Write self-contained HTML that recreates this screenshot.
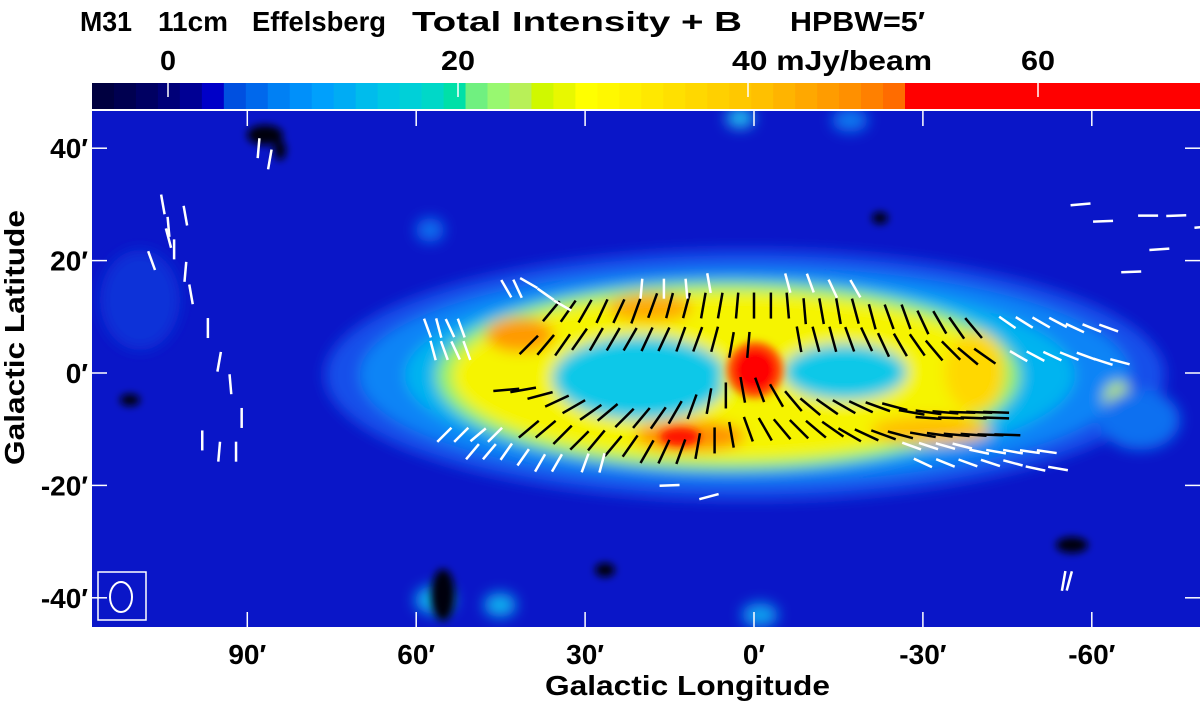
<!DOCTYPE html>
<html><head><meta charset="utf-8"><style>
body{margin:0;background:#fff;width:1200px;height:703px;overflow:hidden;font-family:"Liberation Sans",sans-serif}
svg{display:block}
text{font-family:"Liberation Sans",sans-serif;font-weight:bold;fill:#000}
</style></head><body>
<svg id="chart" width="1200" height="703">
<defs>
<filter id="bl" x="-20%" y="-20%" width="140%" height="140%"><feGaussianBlur stdDeviation="7"/></filter>
<filter id="bl2" x="-50%" y="-50%" width="200%" height="200%"><feGaussianBlur stdDeviation="4"/></filter>
<clipPath id="mapclip"><rect x="92" y="111" width="1108" height="516"/></clipPath>
</defs>
<g font-size="28">
<text x="80" y="31" textLength="52" lengthAdjust="spacingAndGlyphs">M31</text>
<text x="158" y="31" textLength="70" lengthAdjust="spacingAndGlyphs">11cm</text>
<text x="252" y="31" textLength="134" lengthAdjust="spacingAndGlyphs">Effelsberg</text>
<text x="412" y="31" textLength="330" lengthAdjust="spacingAndGlyphs">Total Intensity + B</text>
<text x="790" y="31" textLength="135" lengthAdjust="spacingAndGlyphs">HPBW=5′</text>
</g>
<g id="cbar"></g>
<g clip-path="url(#mapclip)">
<rect x="92" y="111" width="1108" height="516" fill="#0a16c8"/>
<g filter="url(#bl)">
<ellipse cx="140" cy="300" rx="40" ry="50" fill="#0c30d8"/>
<ellipse cx="745" cy="375" rx="420" ry="125" fill="#1250ea"/>
<ellipse cx="745" cy="375" rx="385" ry="108" fill="#0a84f6"/>
<ellipse cx="740" cy="375" rx="335" ry="95" fill="#00b4f0"/>
<ellipse cx="728" cy="376" rx="292" ry="94" fill="#90f068"/>
<ellipse cx="728" cy="376" rx="276" ry="84" fill="#f6f400"/>
<ellipse cx="640" cy="378" rx="88" ry="42" fill="#10c8e8"/>
<ellipse cx="845" cy="372" rx="62" ry="28" fill="#10c8e8"/>
<ellipse cx="740" cy="380" rx="18" ry="20" fill="#e8f800"/>
<ellipse cx="520" cy="335" rx="34" ry="17" fill="#ff9a00"/>
<ellipse cx="650" cy="308" rx="42" ry="14" fill="#ffaa00"/>
<ellipse cx="690" cy="436" rx="55" ry="15" fill="#ff9000"/>
<ellipse cx="930" cy="430" rx="60" ry="14" fill="#ffc000"/>
<ellipse cx="975" cy="372" rx="30" ry="40" fill="#ffd800"/>
<ellipse cx="1118" cy="400" rx="14" ry="18" fill="#c0f040"/>
<ellipse cx="740" cy="118" rx="14" ry="10" fill="#20c0f0"/>
<ellipse cx="850" cy="120" rx="18" ry="12" fill="#1078f0"/>
<ellipse cx="435" cy="600" rx="20" ry="14" fill="#10b0f0"/>
<ellipse cx="500" cy="605" rx="16" ry="12" fill="#10b0f0"/>
<ellipse cx="760" cy="615" rx="18" ry="12" fill="#10a0f0"/>
<ellipse cx="1140" cy="420" rx="40" ry="30" fill="#1070f0"/>
<ellipse cx="430" cy="230" rx="14" ry="12" fill="#1070f0"/>
</g>
<g filter="url(#bl2)">
<ellipse cx="680" cy="437" rx="20" ry="9" fill="#ff1800"/>
<circle cx="755" cy="370" r="28" fill="#ff5000"/>
<circle cx="755" cy="370" r="21" fill="#ff0000"/>
<ellipse cx="265" cy="135" rx="18" ry="10" fill="#000010"/>
<ellipse cx="280" cy="150" rx="6" ry="10" fill="#000010"/>
<ellipse cx="443" cy="595" rx="12" ry="26" fill="#000010"/>
<ellipse cx="605" cy="570" rx="10" ry="7" fill="#000010"/>
<ellipse cx="1072" cy="545" rx="16" ry="8" fill="#000010"/>
<ellipse cx="880" cy="218" rx="8" ry="6" fill="#000010"/>
<ellipse cx="130" cy="400" rx="10" ry="6" fill="#000010"/>
</g>
<g id="vectors"></g>
<g id="ticks"></g>
<rect x="98" y="572" width="48" height="48" fill="none" stroke="#fff" stroke-width="1.5"/>
<ellipse cx="121" cy="597" rx="11" ry="15" fill="none" stroke="#fff" stroke-width="2"/>
</g>
<g id="labels"></g>
<text x="545" y="695" font-size="28" textLength="285" lengthAdjust="spacingAndGlyphs">Galactic Longitude</text>
<text transform="translate(24,465) rotate(-90)" font-size="28" textLength="255" lengthAdjust="spacingAndGlyphs">Galactic Latitude</text>
</svg>
<script>
const cbarColors=["#000040","#000050","#000062","#000078","#000094","#0000c8","#0050e0","#0068ec","#0080f4","#0090fa","#00a0fc","#00acf4","#00bcec","#00c8e4","#00d0d8","#00d8c8","#00e0a8","#70f080","#98f870","#b8f058","#d0f800","#e8f800","#ffff00","#fff800","#fff000","#ffe800","#ffe000","#ffd800","#ffd000","#ffc800","#ffc000","#ffb400","#ffa800","#ff9c00","#ff9000","#ff8000","#ff6c00"];
const cbarTicks=[0,20,40,60];
const cbarTickText=["0","20","40 mJy/beam","60"];
const xTicks=[90,60,30,0,-30,-60];
const xTickText=["90′","60′","30′","0′","-30′","-60′"];
const yTicks=[40,20,0,-20,-40];
const yTickText=["40′","20′","0′","-20′","-40′"];
const vLon=[36,33,30,27,24,21,18,15,12,9,6,3,0,-3,-6,-9,-12,-15,-18,-21,-24,-27,-30,-33,-36,-39,
 40,37,34,31,28,25,22,19,16,13,10,7,4,1,-8,-11,-14,-17,-20,-23,-26,-29,-32,-35,-38,-41,
 44,41,38,35,32,29,26,23,20,17,14,11,8,5,2,-1,-4,-7,-10,-13,-16,-19,-22,-25,-28,-31,-34,-37,-40,-43,
 40,37,34,31,28,25,22,19,16,13,10,7,4,1,-2,-5,-8,-11,-14,-17,-20,-23,-26,
 -30,-33,-36,-39,-42,-45,-31,-35,-39,-43,
 58,56,54,52,57,55,53,51,40,37,34,44,42,55,52,49,46,50,47,44,41,38,35,30,27,
 -28,-31,-34,-37,-40,-43,-46,-49,-52,-30,-34,-38,-42,-46,-50,-54,
 -45,-48,-51,-54,-57,-60,-63,-47,-50,-53,-56,-59,-62,-65,
 20,16,12,8,-6,-10,-14,-18,
 105,104,103,101,100,97,95,93,91,107,104,101,98,95,92,
 88,86,-55,-56,-58,-62,-70,-75,-80,-67,-72,15,8];
const vLat=[11,11,11,11,11,11,12,12,12,12,12,12,12,12,12,11,11,11,11,10,10,10,9,9,8,8,
 5,5,5,6,6,6,6,6,6,6,6,6,5,5,6,6,6,6,6,5,5,5,4,4,3,3,
 -3,-3,-4,-5,-6,-7,-7,-8,-8,-8,-7,-6,-5,-4,-3,-3,-4,-5,-6,-6,-6,-6,-6,-6,-7,-7,-7,-7,-7,-7,
 -10,-10,-11,-12,-12,-13,-13,-14,-14,-14,-13,-12,-11,-10,-10,-10,-10,-10,-10,-11,-11,-11,-11,
 -11,-11,-11,-11,-11,-11,-8,-8,-8,-8,
 8,8,8,8,4,4,4,4,16,14,12,15,15,-11,-11,-11,-11,-14,-14,-14,-15,-16,-16,-16,-16,
 -13,-13,-13,-13,-14,-14,-14,-14,-14,-16,-16,-16,-16,-16,-17,-17,
 9,9,9,9,8,8,8,3,3,3,3,3,2,2,
 15,15,15,16,16,16,15,15,
 30,26,22,18,14,8,2,-2,-8,20,24,28,-12,-14,-14,
 40,38,-37,-37,30,27,28,28,26,18,22,-20,-22];
const vAng=[40,35,30,25,25,20,20,15,15,10,10,5,0,0,-5,-5,-10,-10,-15,-15,-20,-20,-25,-30,-35,-40,
 45,40,35,35,30,30,30,25,25,20,20,15,10,5,-10,-15,-15,-20,-25,-25,-30,-35,-40,-45,-50,-55,
 85,80,75,65,60,55,50,45,40,35,30,20,10,0,-10,-20,-30,-40,-50,-55,-60,-65,-70,-75,-80,-82,-85,-88,-88,-88,
 50,50,45,45,40,40,35,30,25,20,10,0,-10,-20,-30,-40,-45,-50,-55,-60,-65,-70,-75,
 -80,-82,-85,-86,-88,-88,-86,-88,-88,-88,
 -20,-15,-25,-20,-15,-20,-25,-20,-60,-55,-60,-30,-25,45,45,50,45,40,40,35,35,30,30,20,15,
 -70,-72,-74,-76,-78,-80,-80,-82,-82,-65,-68,-70,-72,-75,-78,-80,
 -55,-58,-60,-62,-65,-68,-70,-60,-62,-65,-68,-70,-72,-75,
 5,0,-5,-10,-15,-20,-25,-30,
 -10,-5,0,5,-10,0,10,-5,0,-20,-15,-10,0,5,0,
 5,10,10,15,85,88,90,88,85,88,86,88,75];
const vBlack=82+23+10;
const vMap=document.getElementById('vectors');
const X=l=>754-l*5.63, Y=b=>373-b*5.62;
const NS='http://www.w3.org/2000/svg';
for(let i=0;i<vLon.length;i++){
 const a=vAng[i]*Math.PI/180, L=i<vBlack?13:10;
 const cx=X(vLon[i]), cy=Y(vLat[i]);
 const dx=Math.sin(a)*L, dy=-Math.cos(a)*L;
 const ln=document.createElementNS(NS,'line');
 ln.setAttribute('x1',cx-dx);ln.setAttribute('y1',cy-dy);ln.setAttribute('x2',cx+dx);ln.setAttribute('y2',cy+dy);
 ln.setAttribute('stroke',i<vBlack?'#000':'#fff');ln.setAttribute('stroke-width','2.5');
 
 
 vMap.appendChild(ln);
}
// colorbar
const cb=document.getElementById('cbar');
const cx0=92,cx1=905,cy0=83,cy1=109;
const cw=(cx1-cx0)/cbarColors.length;
cbarColors.forEach((c,i)=>{
 const r=document.createElementNS(NS,'rect');
 r.setAttribute('x',cx0+i*cw);r.setAttribute('y',cy0);r.setAttribute('width',cw+0.6);r.setAttribute('height',cy1-cy0);r.setAttribute('fill',c);
 
 
 cb.appendChild(r);
});
const red=document.createElementNS(NS,'rect');
red.setAttribute('x',cx1);red.setAttribute('y',cy0);red.setAttribute('width',1200-cx1);red.setAttribute('height',cy1-cy0);red.setAttribute('fill','#ff0000');


cb.appendChild(red);
const CB=v=>168+v*14.5;
const cbLen=[16,34,200,34];
cbarTicks.forEach((v,i)=>{
 const t=document.createElementNS(NS,'line');
 t.setAttribute('x1',CB(v));t.setAttribute('x2',CB(v));t.setAttribute('y1',cy0);t.setAttribute('y2',cy0+14);t.setAttribute('stroke','#fff');t.setAttribute('stroke-width','1.5');
 
 
 cb.appendChild(t);
 const tx=document.createElementNS(NS,'text');
 tx.setAttribute('x',i==2?CB(v)-16:CB(v)-cbLen[i]/2);tx.setAttribute('y',70);tx.setAttribute('font-size','28');
 tx.setAttribute('textLength',cbLen[i]);tx.setAttribute('lengthAdjust','spacingAndGlyphs');
 tx.textContent=cbarTickText[i];
 
 
 cb.appendChild(tx);
});
const bl=document.createElementNS(NS,'line');
bl.setAttribute('x1',92);bl.setAttribute('x2',1200);bl.setAttribute('y1',110);bl.setAttribute('y2',110);bl.setAttribute('stroke','#fff');bl.setAttribute('stroke-width','2');
cb.appendChild(bl);
// ticks
const tk=document.getElementById('ticks'), lb=document.getElementById('labels');
xTicks.forEach((v,i)=>{
 [[627,612],[111,126]].forEach(p=>{
  const t=document.createElementNS(NS,'line');
  t.setAttribute('x1',X(v));t.setAttribute('x2',X(v));t.setAttribute('y1',p[0]);t.setAttribute('y2',p[1]);t.setAttribute('stroke','#fff');t.setAttribute('stroke-width','1.5');
  
  
  tk.appendChild(t);
 });
 const tx=document.createElementNS(NS,'text');
 tx.setAttribute('x',X(v));tx.setAttribute('y',664);tx.setAttribute('font-size','28');tx.setAttribute('text-anchor','middle');
 tx.textContent=xTickText[i];
 
 
 lb.appendChild(tx);
});
yTicks.forEach((v,i)=>{
 [[92,107],[1200,1185]].forEach(p=>{
  const t=document.createElementNS(NS,'line');
  t.setAttribute('x1',p[0]);t.setAttribute('x2',p[1]);t.setAttribute('y1',Y(v));t.setAttribute('y2',Y(v));t.setAttribute('stroke','#fff');t.setAttribute('stroke-width','1.5');
  
  
  tk.appendChild(t);
 });
 const tx=document.createElementNS(NS,'text');
 tx.setAttribute('x',88);tx.setAttribute('y',Y(v)+10);tx.setAttribute('font-size','28');tx.setAttribute('text-anchor','end');
 tx.textContent=yTickText[i];
 
 
 lb.appendChild(tx);
});
</script>
</body></html>
